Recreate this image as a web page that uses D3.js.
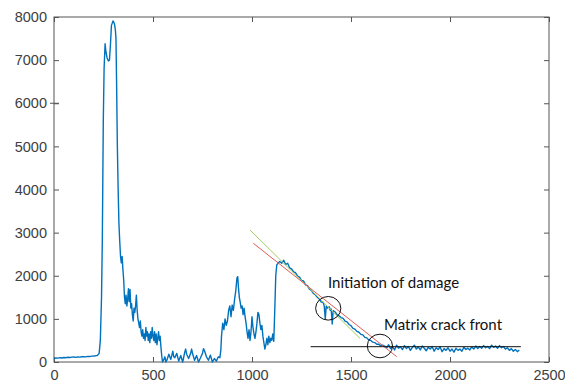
<!DOCTYPE html>
<html>
<head>
<meta charset="utf-8">
<script src="https://cdn.jsdelivr.net/npm/d3@7"></script>
<style>
  body { margin: 0; background: #fff; }
  svg { display: block; }
  .tick-label { font-family: "Liberation Sans", Arial, sans-serif; font-size: 14.5px; fill: #404040; }
  .note { font-family: Lato, "Open Sans", sans-serif; font-size: 15px; fill: #111; }
</style>
</head>
<body>
<svg id="chart" width="565" height="383"></svg>
<script>
// tick values
var xTicks = [0, 500, 1000, 1500, 2000, 2500];
var yTicks = [0, 1000, 2000, 3000, 4000, 5000, 6000, 7000, 8000];

// signal, [x, amplitude]
var signal = [
  [0,70],[10,95],[20,90],[30,100],[40,92],[50,105],[60,100],[70,110],[80,104],[90,112],
  [100,115],[110,108],[120,120],[130,114],[140,122],[150,125],[160,120],[170,130],[180,126],[190,136],
  [200,140],[210,146],[220,155],[228,200],[234,500],[240,1500],[244,2800],[249,5600],[253,6800],[258,7380],
  [262,7200],[268,7050],[275,6980],[280,7000],[285,7350],[290,7800],[298,7910],[305,7850],[310,7700],[313,7500],
  [316,6500],[320,5000],[324,4000],[328,3200],[332,2800],[336,2450],[340,2300],[344,2450],[348,2150],[352,1900],
  [356,1500],[360,1350],[364,1550],[368,1300],[372,1450],[376,1700],[380,1400],[384,1680],[388,1250],[392,1350],
  [396,1100],[400,950],[404,1250],[408,1150],[412,1300],[416,1550],[420,1200],[424,1000],[428,900],[432,800],
  [436,950],[440,700],[444,600],[448,750],[452,550],[456,650],[460,500],[464,800],[468,600],[472,700],
  [476,500],[480,650],[484,450],[488,700],[492,550],[496,800],[500,600],[504,500],[508,700],[512,450],
  [516,650],[520,400],[524,550],[528,700],[532,500],[536,600],[540,350],[544,150],[548,0],[555,60],
  [560,120],[565,0],[570,40],[580,180],[590,60],[600,250],[605,120],[610,100],[620,200],[630,20],
  [640,150],[650,0],[660,220],[665,300],[670,180],[680,80],[690,200],[695,300],[700,190],[710,40],
  [720,150],[730,0],[740,100],[750,200],[755,310],[760,260],[770,120],[780,40],[790,160],[800,0],
  [810,80],[820,20],[830,120],[838,100],[843,300],[846,600],[852,900],[858,750],[864,1000],[870,850],
  [876,950],[882,1200],[888,1300],[894,1050],[900,1320],[906,1200],[912,1450],[918,1650],[924,1950],[928,1980],
  [932,1700],[936,1500],[940,1400],[945,1250],[950,1300],[955,1100],[960,1250],[965,1050],[970,900],[975,700],
  [980,550],[985,750],[990,500],[995,700],[1000,1050],[1005,800],[1010,650],[1015,550],[1020,700],[1025,900],
  [1030,1150],[1035,1100],[1040,900],[1045,750],[1050,850],[1055,600],[1060,450],[1065,300],[1070,400],[1075,550],
  [1080,400],[1085,600],[1090,450],[1095,550],[1100,500],[1105,650],[1110,480],[1115,1200],[1120,2000],[1125,2250],
  [1130,2280],[1140,2330],[1150,2290],[1160,2360],[1170,2260],[1180,2290],[1190,2180],[1200,2160],[1210,2090],[1220,2070],
  [1230,1990],[1240,1970],[1250,1890],[1260,1880],[1270,1790],[1280,1770],[1290,1690],[1300,1660],[1310,1590],[1320,1560],
  [1330,1500],[1340,1460],[1350,1390],[1360,1380],[1365,1290],[1370,1000],[1375,1300],[1380,1250],[1390,1280],[1395,1200],
  [1400,1230],[1405,880],[1410,1190],[1420,1160],[1430,1090],[1440,1070],[1450,1030],[1460,1010],[1470,950],[1480,930],
  [1490,870],[1500,840],[1510,780],[1520,760],[1530,710],[1540,690],[1550,640],[1560,630],[1570,570],[1580,560],
  [1590,510],[1600,500],[1610,460],[1620,450],[1630,410],[1640,410],[1650,380],[1660,390],[1670,370],[1680,330],
  [1690,400],[1700,310],[1710,360],[1720,280],[1730,390],[1740,320],[1750,350],[1760,290],[1770,380],[1780,310],
  [1790,360],[1800,270],[1810,340],[1820,390],[1830,300],[1840,350],[1850,280],[1860,370],[1870,320],[1880,260],
  [1890,340],[1900,300],[1910,360],[1920,250],[1930,330],[1940,290],[1950,350],[1960,240],[1970,310],[1980,270],
  [1990,330],[2000,250],[2010,300],[2020,230],[2030,320],[2040,270],[2050,300],[2060,250],[2070,340],[2080,290],
  [2090,320],[2100,280],[2110,350],[2120,300],[2130,370],[2140,310],[2150,360],[2160,320],[2170,380],[2180,330],
  [2190,360],[2200,310],[2210,390],[2220,340],[2230,370],[2240,320],[2250,380],[2260,330],[2270,360],[2280,300],
  [2290,330],[2300,270],[2310,310],[2320,250],[2330,290],[2340,240],[2350,280]
];

// hand-drawn fit lines: [x0, y0, x1, y1]
var greenFit = [990, 3061, 1545, 549];
var redFit = [1007, 2752, 1731, 123];
var baseFit = [1296, 355, 2358, 355];

// circled spots and labels
var circles = [[1385, 1245], [1646, 371]];
var notes = [["Initiation of damage", 1384, 1716], ["Matrix crack front", 1667, 742]];

var margin = { top: 17, right: 16, bottom: 21, left: 54 };
var width = 565 - margin.left - margin.right;
var height = 383 - margin.top - margin.bottom;

var svg = d3.select('#chart')
    .append('g')
    .attr('transform', `translate(${margin.left}, ${margin.top})`);

var x = d3.scaleLinear().domain([0, 2500]).range([0, width]);
var y = d3.scaleLinear().domain([0, 8000]).range([height, 0]);

// frame
svg.append('rect')
    .attr('width', width)
    .attr('height', height)
    .attr('fill', 'none')
    .attr('stroke', '#555')
    .attr('stroke-width', 1);

var tickLen = 5;
var fmt = d3.format('d');
var xAxis = d3.axisBottom(x).tickValues(xTicks).tickSize(-tickLen).tickPadding(7.5).tickFormat(fmt);
var xTop = d3.axisTop(x).tickValues(xTicks).tickSize(-tickLen).tickFormat('');
var yAxis = d3.axisLeft(y).tickValues(yTicks).tickSize(-tickLen).tickPadding(7).tickFormat(fmt);
var yRight = d3.axisRight(y).tickValues(yTicks).tickSize(-tickLen).tickFormat('');

function style(g) {
    g.select('.domain').remove();
    g.selectAll('line').attr('stroke', '#555');
    g.selectAll('text').attr('class', 'tick-label').attr('fill', null);
    g.attr('font-family', null).attr('font-size', null);
}

svg.append('g').attr('transform', `translate(0, ${height})`).call(xAxis).call(style);
svg.append('g').call(xTop).call(style);
svg.append('g').call(yAxis).call(style);
svg.append('g').attr('transform', `translate(${width}, 0)`).call(yRight).call(style);

// stray tick mark sticking out at 6000
svg.append('line')
    .attr('x1', -4).attr('x2', tickLen)
    .attr('y1', y(6000)).attr('y2', y(6000))
    .attr('stroke', '#555');

var line = d3.line().x(d => x(d[0])).y(d => y(d[1]));

svg.append('path')
    .datum(signal)
    .attr('fill', 'none')
    .attr('stroke', '#0072BD')
    .attr('stroke-width', 1.4)
    .attr('stroke-linejoin', 'round')
    .attr('d', line);

function seg(f, color) {
    svg.append('line')
        .attr('x1', x(f[0])).attr('y1', y(f[1]))
        .attr('x2', x(f[2])).attr('y2', y(f[3]))
        .attr('stroke', color)
        .attr('stroke-width', 1);
}
seg(greenFit, '#a3cc5c');
seg(redFit, '#e05a5a');
seg(baseFit, '#111');

svg.selectAll('.ring').data(circles)
    .enter()
    .append('ellipse')
    .attr('class', 'ring')
    .attr('cx', d => x(d[0]))
    .attr('cy', d => y(d[1]))
    .attr('rx', 12.6)
    .attr('ry', 11.8)
    .attr('fill', 'none')
    .attr('stroke', '#111')
    .attr('stroke-width', 1);

svg.selectAll('.note').data(notes)
    .enter()
    .append('text')
    .attr('class', 'note')
    .attr('x', d => x(d[1]))
    .attr('y', d => y(d[2]))
    .text(d => d[0]);
</script>
</body>
</html>
